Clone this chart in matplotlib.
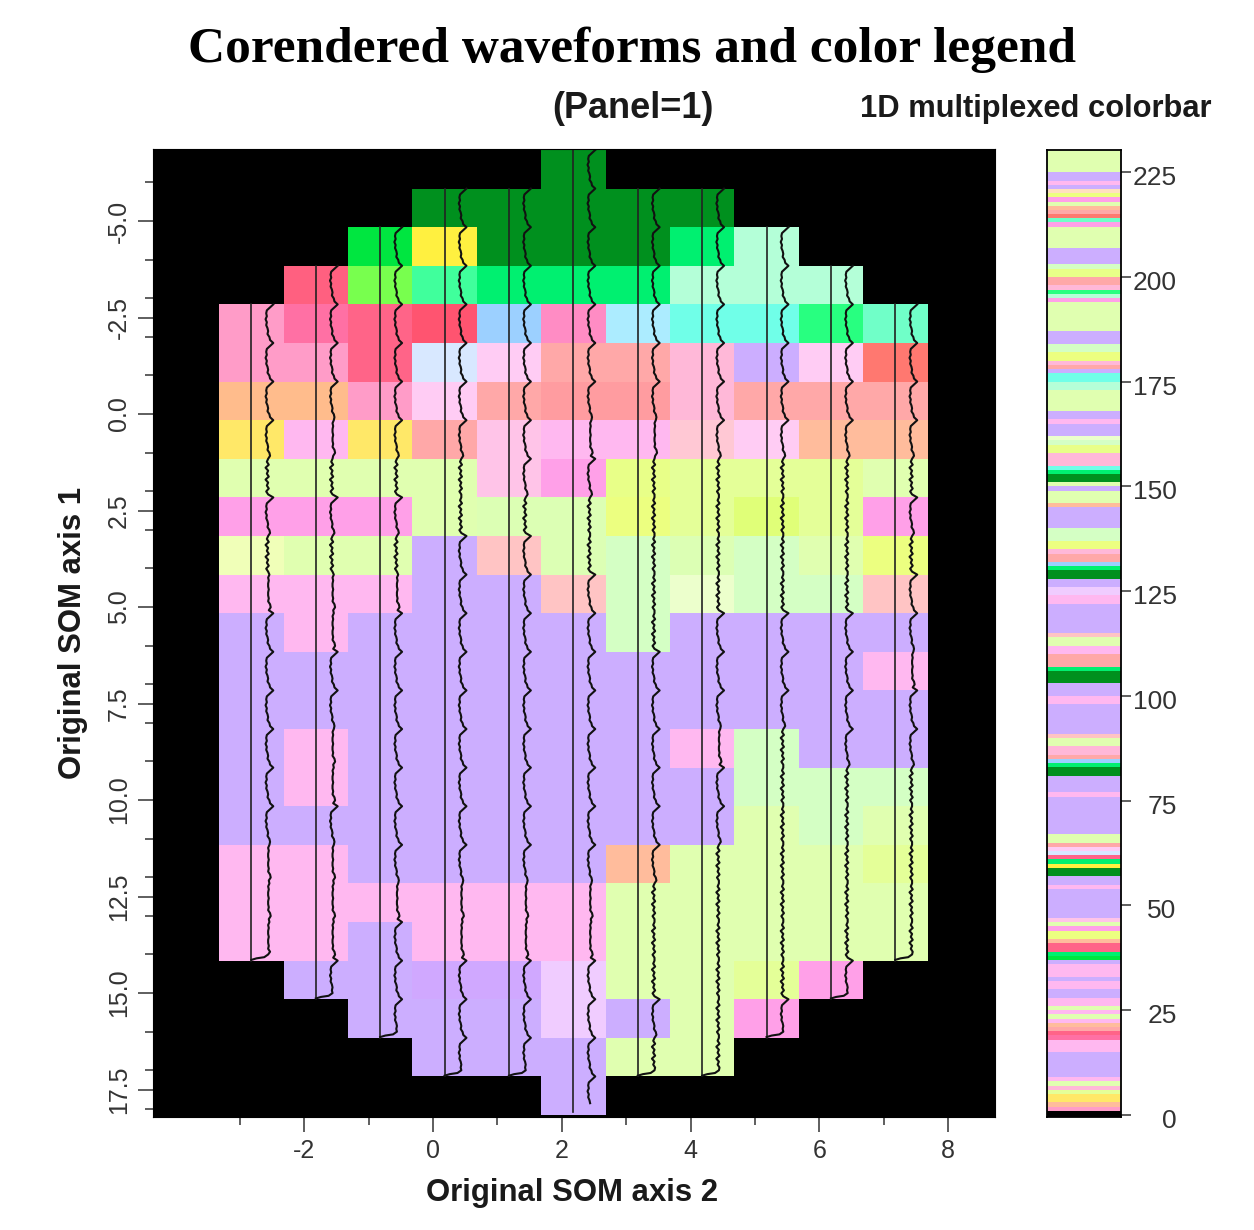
import matplotlib
matplotlib.use('Agg')
import matplotlib.pyplot as plt
import numpy as np
from matplotlib.colors import ListedColormap, BoundaryNorm
from matplotlib.transforms import ScaledTranslation

W, H = 1254, 1230

# colour key for both the map and the bar
palette = {
    '.': '#000000', 'G': '#00901e', 'g': '#00f070', 'B': '#00e640', 'l': '#78ff4e',
    't': '#40ff9c', 'm': '#b4ffd8', 'c': '#70ffe8', 's': '#28ff80', 'q': '#70ffc8',
    'R': '#ff6488', 'r': '#ff70a4', 'd': '#ff5470', 'f': '#ff6080', 'h': '#ff9cc8',
    'i': '#ff8cc4', 'u': '#9cd0ff', 'v': '#acecff', 'w': '#d8e8ff', 'P': '#ccaeff',
    'p': '#d0a8ff', 'o': '#ffbc8c', 'O': '#ffbc9c', 'Y': '#ffe868', 'y': '#fff040',
    'a': '#ffa8a8', 'A': '#ff9ca0', 'e': '#ffb8d8', 'n': '#ffb8f0', 'N': '#ffccf4',
    'M': '#ffa0e8', 'L': '#e0ffb0', 'K': '#e4ff98', 'x': '#e8ff88', 'z': '#ecff80',
    'D': '#d4ffc4', 'T': '#f0ffb8', 'E': '#ecffcc', 'V': '#f0ccff', 'S': '#ffc4c4',
    'X': '#ff7870', 'C': '#ffc8d4', 'Z': '#e0ff78', 'W': '#ffc4e8', 'j': '#ffe0c0',
    'J': '#dcffb4',
}

# one string per SOM row, one letter per SOM column
som_rows = [
    '.....G.....',
    '...GGGGG...',
    '..ByGGGgm..',
    '.fltgggmmm.',
    'hrRduivccsq',
    'hhRwNaaePNX',
    'oohNaAAeaaa',
    'YnYaWnnCNOO',
    'LLLLWMxKKKL',
    'MMMLJJzKZKM',
    'TLLPSJDJDLz',
    'nnnPPSDEDDS',
    'PnPPPPDPPPP',
    'PPPPPPPPPPn',
    'PPPPPPPPPPP',
    'PnPPPPPnDPP',
    'PnPPPPPPDDD',
    'PPPPPPPPLDL',
    'nnPPPPOLLLK',
    'nnnnnnLLLLL',
    'nnPnnnLLLLL',
    '.PPppVLLKM.',
    '..PPPVPLM..',
    '...PPPLL...',
    '.....P.....',
]

# bar levels from index 0 upward, ten to a chunk
bar_levels = [
    '.hOYYKeLnP', 'PPPPPnnnrR', 'aOnLnLnnPP', 'nnPnnnPBgR', 'ROzzMLWPPP',
    'PPPPnPPGGy', 'gRwNaLLPPP', 'PPPPPPnPPP', 'PGGguaeeLL', 'SPPPPPPPnn',
    'PPPGGGgaaa', 'nnLLSPPPPP', 'PPnnVVPPGG', 'guaaezzDDD', 'PPPPPOLLLP',
    'LGGgceeexx', 'DEPPPnPPLL', 'LLLmmccPae', 'zzDDPPPLLL', 'LLLLMmseaa',
    'xxDPPPPLLL', 'LLMqXaOLMz', 'jPnPPLLLLLL',
]

# one period of the trace per cell, offset from its baseline, cell top to bottom
wave_purple = [0.08, 0.03, -0.02, -0.03, -0.02, -0.04, -0.02, -0.03, -0.01, 0.0, -0.01, 0.02, 0.03]
wave_green = [0.0, -0.02, 0.01, -0.04, 0.0, -0.02, 0.01, -0.04, 0.0, -0.02, 0.01, -0.03, 0.0]
wave_pink = [0.02, 0.0, 0.01, 0.0, 0.0, 0.01, 0.0, 0.0, 0.01, 0.0, 0.03, 0.04, 0.01]
wave_tail = [0.26, 0.2, 0.08, 0.0]
tail_rise = [0.16, 0.09, 0.06, 0.02]
green_keys = 'LKxzDTEJZ'
wave_offset = 0.26

x_ticks = [-2, 0, 2, 4, 6, 8]
x_minor = [-3, -1, 1, 3, 5, 7]
y_ticks = [-5.0, -2.5, 0.0, 2.5, 5.0, 7.5, 10.0, 12.5, 15.0, 17.5]
y_minor = [-6, -4, -3, -2, -1, 1, 2, 3, 4, 6, 7, 8, 9, 11, 12, 13, 14, 16, 17, 18]
bar_ticks = [0, 25, 50, 75, 100, 125, 150, 175, 200, 225]

plt.rcParams['font.family'] = ['Liberation Sans', 'DejaVu Sans']
plt.rcParams['axes.unicode_minus'] = False
keys = list(palette)
cmap = ListedColormap([palette[k] for k in keys])
norm = BoundaryNorm(np.arange(len(keys) + 1) - 0.5, len(keys))

fig = plt.figure(figsize=(W / 100, H / 100), dpi=100)


def axes_px(left, top, right, bottom):
    return fig.add_axes([left / W, 1 - bottom / H, (right - left) / W, (bottom - top) / H])


# map
ax = axes_px(153, 149, 994.5, 1117)
ax.set_facecolor('black')
grid = np.array([[keys.index(c) for c in row] for row in som_rows])
n_rows, n_cols = grid.shape
x_edges = -3.32 + np.arange(n_cols + 1)
y_edges = -6.84 + np.arange(n_rows + 1)
ax.pcolormesh(x_edges, y_edges, grid, cmap=cmap, norm=norm)
ax.set_xlim(-4.348, 8.72)
ax.set_ylim(18.21, -6.865)

for col in range(n_cols):
    filled = [r for r in range(n_rows) if som_rows[r][col] != '.']
    top, bot = filled[0], filled[-1]
    xc = (x_edges[col] + x_edges[col + 1]) / 2
    end = y_edges[bot + 1] - (0.08 if col == 5 else 0.0)
    ax.plot([xc, xc], [y_edges[top], end], color='#222222', lw=1.2)
    xs, ys = [], []
    for r in range(top, bot + 1):
        key = som_rows[r][col]
        shape = wave_green if key in green_keys else wave_pink if key == 'n' else wave_purple
        ys.extend(np.linspace(y_edges[r], y_edges[r + 1], len(shape), endpoint=False))
        xs.extend(xc + wave_offset + np.array(shape))
    if col == 5:
        xs, ys = xs[:-3], ys[:-3]
    else:
        xs = xs[:-2] + [xc + t for t in wave_tail]
        ys = ys[:-2] + list(y_edges[bot + 1] - np.array(tail_rise))
    ax.plot(xs, ys, color='#111111', lw=1.5)

ax.set_xticks(x_ticks)
ax.set_xticks(x_minor, minor=True)
ax.set_yticks(y_ticks)
ax.set_yticks(y_minor, minor=True)
ax.set_yticklabels(['%.1f' % v for v in y_ticks], rotation=90, va='center')
ax.tick_params(which='major', length=11, width=1.1, labelsize=18, color='#333333', labelcolor='#333333', pad=5)
ax.tick_params(which='minor', length=6, width=1.1, color='#333333')

# multiplexed colour bar
bar_index = np.array([keys.index(c) for c in ''.join(bar_levels)])
cax = axes_px(1047, 150, 1121, 1117)
cax.set_facecolor('black')
cax.pcolormesh([0, 1], np.arange(len(bar_index) + 1), bar_index[:, None], cmap=cmap, norm=norm)
cax.set_xticks([])
cax.set_xlim(0, 1)
cax.set_ylim(-0.48, 230.3)
cax.yaxis.tick_right()
cax.set_yticks(bar_ticks)
cax.tick_params(axis='y', length=7, width=1.1, labelsize=19, color='#333333', labelcolor='#333333', pad=33)
label_shift = ScaledTranslation(0, -3.5 / 100, fig.dpi_scale_trans)
for lab in cax.get_yticklabels():
    lab.set_ha('right')
    lab.set_transform(lab.get_transform() + label_shift)
for s in cax.spines.values():
    s.set_linewidth(1.3)

fig.text(632 / W, 1 - 50 / H, 'Corendered waveforms and color legend', family='Liberation Serif',
         fontweight='bold', fontsize=37, ha='center', va='center', color='black')
fig.text(633 / W, 1 - 109 / H, '(Panel=1)', fontweight='bold', fontsize=26, ha='center', va='center', color='#1a1a1a')
fig.text(1036 / W, 1 - 109 / H, '1D multiplexed colorbar', fontweight='bold', fontsize=22.2, ha='center', va='center', color='#1a1a1a')
fig.text(572 / W, 1 - 1193 / H, 'Original SOM axis 2', fontweight='bold', fontsize=22.4, ha='center', va='center', color='#1a1a1a')
fig.text(73 / W, 1 - 633 / H, 'Original SOM axis 1', fontweight='bold', fontsize=22.4, rotation=90, ha='center', va='center', color='#1a1a1a')

fig.savefig('out.png', dpi=100)
